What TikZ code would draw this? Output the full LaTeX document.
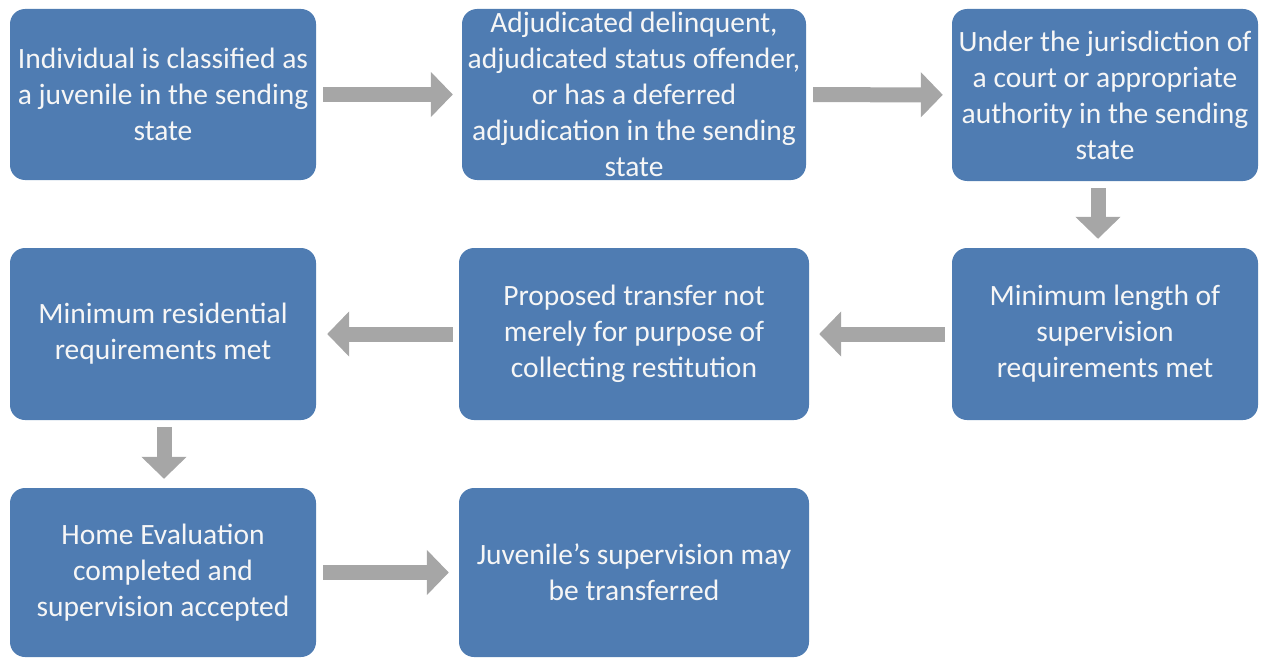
\documentclass[tikz,border=0pt]{standalone}
\usepackage{fontspec}
\setmainfont{Carlito}
\usetikzlibrary{arrows.meta}
\definecolor{boxblue}{RGB}{79,124,178}
\definecolor{arrgray}{RGB}{166,166,166}
\definecolor{txtwhite}{RGB}{246,246,246}
\begin{document}
\begin{tikzpicture}[x=1pt,y=-1pt,
  stepbox/.style={draw=none,fill=boxblue,rounded corners=15pt,inner sep=0pt,
    align=center,text=txtwhite,font=\fontsize{29.5}{36}\selectfont},
  blockarrow/.style={draw=arrgray,line width=15pt,line cap=butt,
    -{Triangle[width=44pt,length=22pt]},shorten <=7pt,shorten >=9pt}]
\useasboundingbox (0,0) rectangle (1266,658);
\node[stepbox,minimum width=306pt,minimum height=171pt] (b1) at (163,94.5)
  {Individual is classified as\\a juvenile in the sending\\state};
\node[stepbox,minimum width=344pt,minimum height=171pt] (b2) at (634,94.5)
  {Adjudicated delinquent,\\adjudicated status offender,\\or has a deferred\\adjudication in the sending\\state};
\node[stepbox,minimum width=306pt,minimum height=172pt] (b3) at (1105,95)
  {Under the jurisdiction of\\a court or appropriate\\authority in the sending\\state};
\node[stepbox,minimum width=306pt,minimum height=172pt] (b4) at (163,334)
  {Minimum residential\\requirements met};
\node[stepbox,minimum width=350pt,minimum height=172pt] (b5) at (634,334)
  {Proposed transfer not\\merely for purpose of\\collecting restitution};
\node[stepbox,minimum width=306pt,minimum height=172pt] (b6) at (1105,334)
  {Minimum length of\\supervision\\requirements met};
\node[stepbox,minimum width=306pt,minimum height=169pt] (b7) at (163,572.5)
  {Home Evaluation\\completed and\\supervision accepted};
\node[stepbox,minimum width=350pt,minimum height=169pt] (b8) at (634,572.5)
  {Juvenile’s supervision may\\be transferred};
\draw[blockarrow] (b1) -- (b2);
\draw[blockarrow] (b2) -- (b3);
\draw[blockarrow,transform canvas={xshift=-7pt}] (b3) -- (b6);
\draw[blockarrow,shorten >=10pt] (b6) -- (b5);
\draw[blockarrow,shorten <=6pt,shorten >=11pt] (b5) -- (b4);
\draw[blockarrow,transform canvas={xshift=1pt}] (b4) -- (b7);
\draw[blockarrow,shorten >=10pt] (b7) -- (b8);
\end{tikzpicture}
\end{document}
